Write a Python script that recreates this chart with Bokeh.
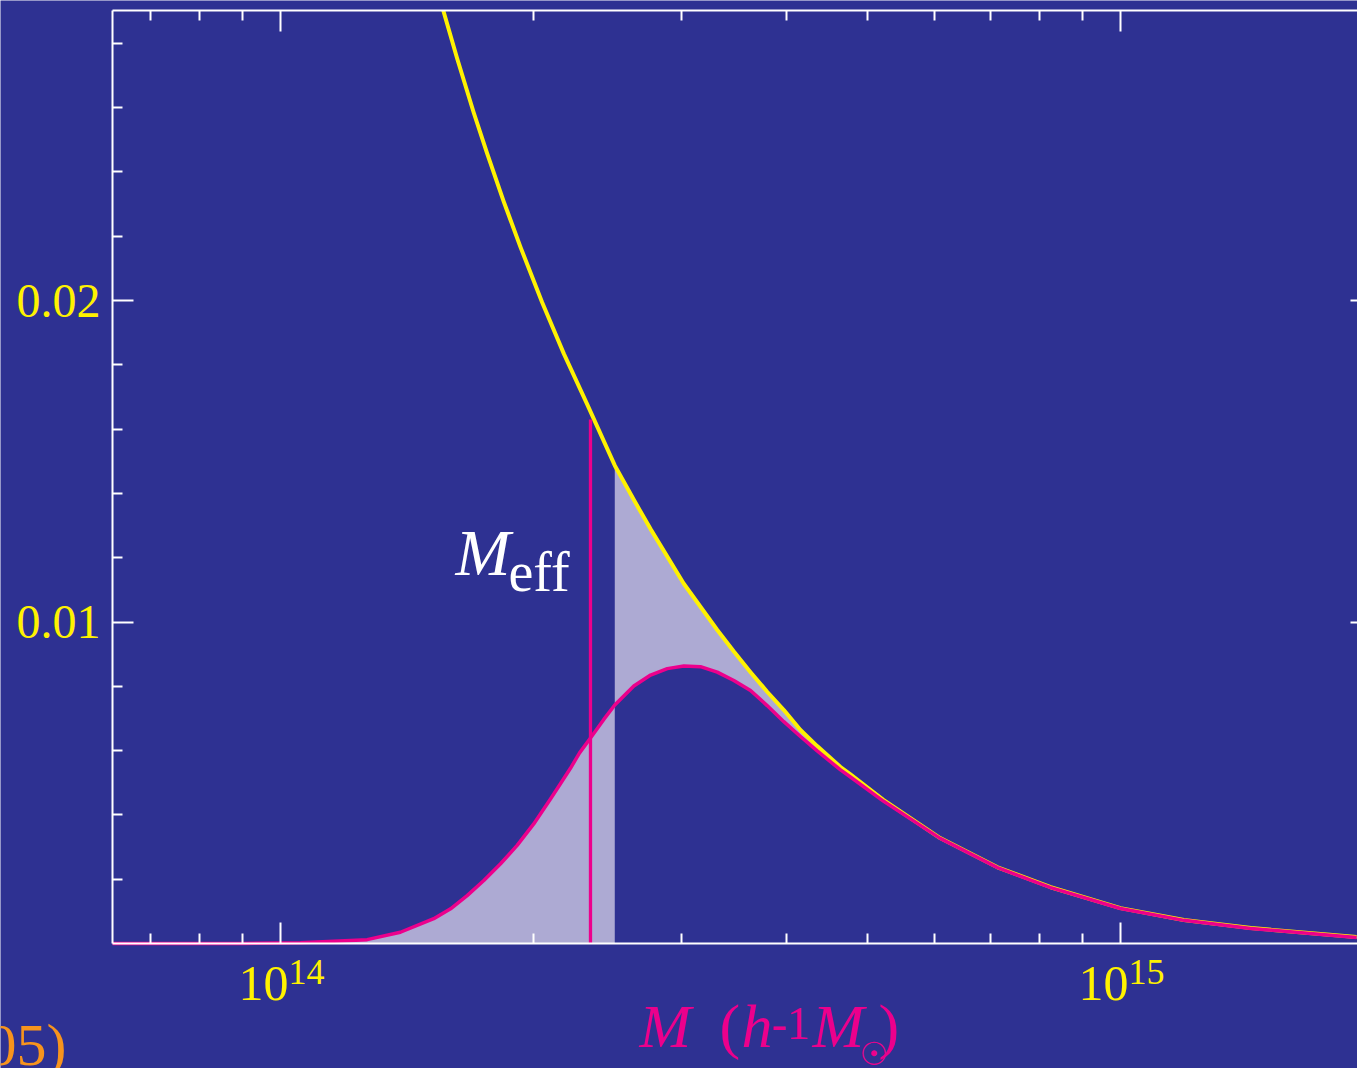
import numpy as np
from bokeh.plotting import figure
from bokeh.models import FixedTicker, LogAxis, LinearAxis, Label, Range1d
from bokeh.embed import file_html
from bokeh.resources import INLINE

# ---------------- data (mass in h^-1 Msun) ----------------
# selected (observed) mass function -- magenta curve
mass_sel = [0.631e14, 0.90e14, 1.056e14, 1.268e14, 1.389e14, 1.522e14, 1.594e14,
            1.668e14, 1.746e14, 1.828e14, 1.913e14, 2.002e14, 2.097e14, 2.154e14,
            2.214e14, 2.27e14, 2.339e14, 2.426e14, 2.50e14, 2.634e14, 2.758e14,
            2.887e14, 3.021e14, 3.162e14, 3.311e14, 3.465e14, 3.627e14, 3.796e14,
            3.974e14, 4.159e14, 4.354e14, 4.642e14, 4.77e14, 5.22e14, 6.10e14,
            7.14e14, 8.26e14, 10.0e14, 11.9e14, 14.3e14, 19.1e14]
frac_sel = [0.0, 0.0, 0.00002, 0.00012, 0.00035, 0.00077, 0.00108,
            0.00149, 0.00196, 0.00248, 0.00305, 0.00372, 0.0045, 0.00497,
            0.00545, 0.00593, 0.00639, 0.00697, 0.00742, 0.00801, 0.00835,
            0.00855, 0.00863, 0.00861, 0.00844, 0.00818, 0.00787, 0.0074,
            0.0069, 0.00644, 0.00599, 0.0054, 0.00518, 0.00443, 0.00327,
            0.00236, 0.00174, 0.00109, 0.00072, 0.00047, 0.00019]

# full mass function -- yellow curve
mass_all = [1.5624e14, 1.6233e14, 1.6985e14, 1.7623e14, 1.8444e14, 1.9307e14,
            2.049e14, 2.1747e14, 2.3182e14, 2.50e14, 2.634e14, 2.758e14, 3.021e14,
            3.311e14, 3.465e14, 3.627e14, 3.796e14, 3.974e14, 4.159e14, 4.354e14,
            4.642e14, 4.77e14, 5.22e14, 6.10e14, 7.14e14, 8.26e14, 10.0e14,
            11.9e14, 14.3e14, 19.1e14]
frac_all = [0.02902, 0.02752, 0.02584, 0.02457, 0.02307, 0.02166,
            0.01994, 0.01834, 0.01677, 0.01487, 0.0138, 0.01289, 0.01119,
            0.00975, 0.00908, 0.00844, 0.00783, 0.00726, 0.00664, 0.00614,
            0.00549, 0.00526, 0.00447, 0.00328, 0.00237, 0.00175, 0.0011,
            0.00073, 0.00048, 0.0002]

m_eff = 2.339e14        # effective mass marker
m_eff_top = 0.0163
m_cut = 2.50e14         # edge of the shaded band

x_ticks = [1e14, 1e15]
x_tick_base = ["10", "10"]
x_tick_exp = ["14", "15"]
x_minor = [7e13, 8e13, 9e13, 2e14, 3e14, 4e14, 5e14, 6e14, 7e14, 8e14, 9e14]
y_ticks = [0.01, 0.02]
y_tick_labels = ["0.01", "0.02"]
y_minor = [0.002, 0.004, 0.006, 0.008, 0.012, 0.014, 0.016, 0.018,
           0.022, 0.024, 0.026, 0.028]

# ---------------- styling ----------------
BG = "#2E3192"
YELLOW = "#FFF200"
PINK = "#EC008C"
LAV = "#ADAAD3"
ORANGE = "#F7941D"
SERIF = "Liberation Serif"

W, H = 1357, 1068

# page-pixel <-> data helpers (axes box: x 112..(beyond 1357), y 10..943)
def px2x(px):
    return 10 ** (13.8 + (px - 112) / 840.0)

def py2y(py):
    return (943 - py) / 32150.0

X_LEFT, X_RIGHT = px2x(112), px2x(W)
Y_BOT, Y_TOP = 0.0, py2y(10)

p = figure(width=W, height=H, x_axis_type="log",
           x_range=Range1d(px2x(0), px2x(W)), y_range=Range1d(py2y(H), py2y(0)),
           output_backend="svg", toolbar_location=None,
           min_border=0, min_border_left=0, min_border_right=0,
           min_border_top=0, min_border_bottom=0,
           background_fill_color=BG, border_fill_color=BG,
           outline_line_color=None)
p.grid.visible = False

# ---------------- shading ----------------
ms = np.array(mass_sel)
fs = np.array(frac_sel)
left = ms <= m_cut
p.varea(x=ms[left], y1=np.zeros(left.sum()), y2=fs[left], fill_color=LAV)

ma = np.array(mass_all)
fa = np.array(frac_all)
ra = ma >= m_cut
rs = ms >= m_cut
poly_x = list(ma[ra]) + list(ms[rs][::-1])
poly_y = list(fa[ra]) + list(fs[rs][::-1])
p.patch(poly_x, poly_y, fill_color=LAV, line_color=None)

# ---------------- curves ----------------
p.line(mass_all, frac_all, line_color=YELLOW, line_width=4, line_join="round")
p.line(mass_sel, frac_sel, line_color=PINK, line_width=3.5, line_join="round")
p.segment(x0=[m_eff], y0=[0], x1=[m_eff], y1=[m_eff_top], line_color=PINK, line_width=3.3)

# ---------------- axes (box drawn with fixed-location axes) ----------------
def style_axis(ax, major_in, minor_in, labels=False):
    ax.axis_line_color = "white"
    ax.axis_line_width = 2
    ax.major_tick_line_color = "white"
    ax.minor_tick_line_color = "white"
    ax.major_tick_line_width = 2
    ax.minor_tick_line_width = 2
    ax.major_tick_in = major_in
    ax.major_tick_out = 0
    ax.minor_tick_in = minor_in
    ax.minor_tick_out = 0
    if not labels:
        ax.major_label_text_font_size = "0px"
        ax.major_label_standoff = 0

xb = p.xaxis[0]
xb.ticker = FixedTicker(ticks=x_ticks, minor_ticks=x_minor)
xb.major_label_overrides = {t: "" for t in x_ticks}
xb.fixed_location = Y_BOT
xb.bounds = (X_LEFT, X_RIGHT)
style_axis(xb, 21, 10)

yl = p.yaxis[0]
yl.ticker = FixedTicker(ticks=y_ticks, minor_ticks=y_minor)
yl.major_label_overrides = dict(zip(y_ticks, y_tick_labels))
yl.fixed_location = X_LEFT
yl.bounds = (Y_BOT, Y_TOP)
style_axis(yl, 21, 10, labels=True)
yl.major_label_text_font = SERIF
yl.major_label_text_font_size = "48px"
yl.major_label_text_color = YELLOW
yl.major_label_standoff = 12

xt = LogAxis(ticker=FixedTicker(ticks=x_ticks, minor_ticks=x_minor),
             fixed_location=Y_TOP, bounds=(X_LEFT, X_RIGHT))
xt.major_label_overrides = {t: "" for t in x_ticks}
style_axis(xt, 21, 10)
p.add_layout(xt, "above")

yr = LinearAxis(ticker=FixedTicker(ticks=y_ticks, minor_ticks=y_minor),
                fixed_location=X_RIGHT, bounds=(Y_BOT, Y_TOP))
yr.major_label_overrides = {t: "" for t in y_ticks}
style_axis(yr, 7, 0)
yr.axis_line_color = None
yr.minor_tick_line_color = None
p.add_layout(yr, "right")

# ---------------- x tick labels 10^n ----------------
for t, b, e in zip(x_ticks, x_tick_base, x_tick_exp):
    p.add_layout(Label(x=t, y=py2y(999), x_offset=8, text=b, text_align="right",
                       text_font=SERIF, text_font_size="50px", text_color=YELLOW))
    p.add_layout(Label(x=t, y=py2y(983), x_offset=8, text=e, text_align="left",
                       text_font=SERIF, text_font_size="36px", text_color=YELLOW))

# ---------------- M_eff annotation ----------------
p.add_layout(Label(x=px2x(455), y=py2y(588), text="M", text_font=SERIF,
                   text_font_style="italic", text_font_size="66px", text_color="white"))
p.add_layout(Label(x=px2x(508), y=py2y(602), text="eff", text_font=SERIF,
                   text_font_size="56px", text_color="white"))

# ---------------- x axis title: M (h^-1 M_sun) ----------------
pieces = [("M", 639, 1059, 62, "italic", SERIF),
          ("(", 719, 1059, 62, "normal", SERIF),
          ("h", 741, 1059, 62, "italic", SERIF),
          ("-1", 771, 1038, 46, "normal", SERIF),
          ("M", 812, 1059, 62, "italic", SERIF),
          ("\u2609", 859, 1072, 32, "normal", "DejaVu Sans"),
          (")", 878, 1059, 62, "normal", SERIF)]
for txt, px, py, fs_, style, font in pieces:
    p.add_layout(Label(x=px2x(px), y=py2y(py), text=txt, text_font=font,
                       text_font_style=style, text_font_size=f"{fs_}px",
                       text_color=PINK))

# citation fragment at lower left
p.add_layout(Label(x=px2x(-14), y=py2y(1077), text="05)", text_font=SERIF,
                   text_font_size="60px", text_color=ORANGE))

open("out.html", "w").write(file_html(p, INLINE))
